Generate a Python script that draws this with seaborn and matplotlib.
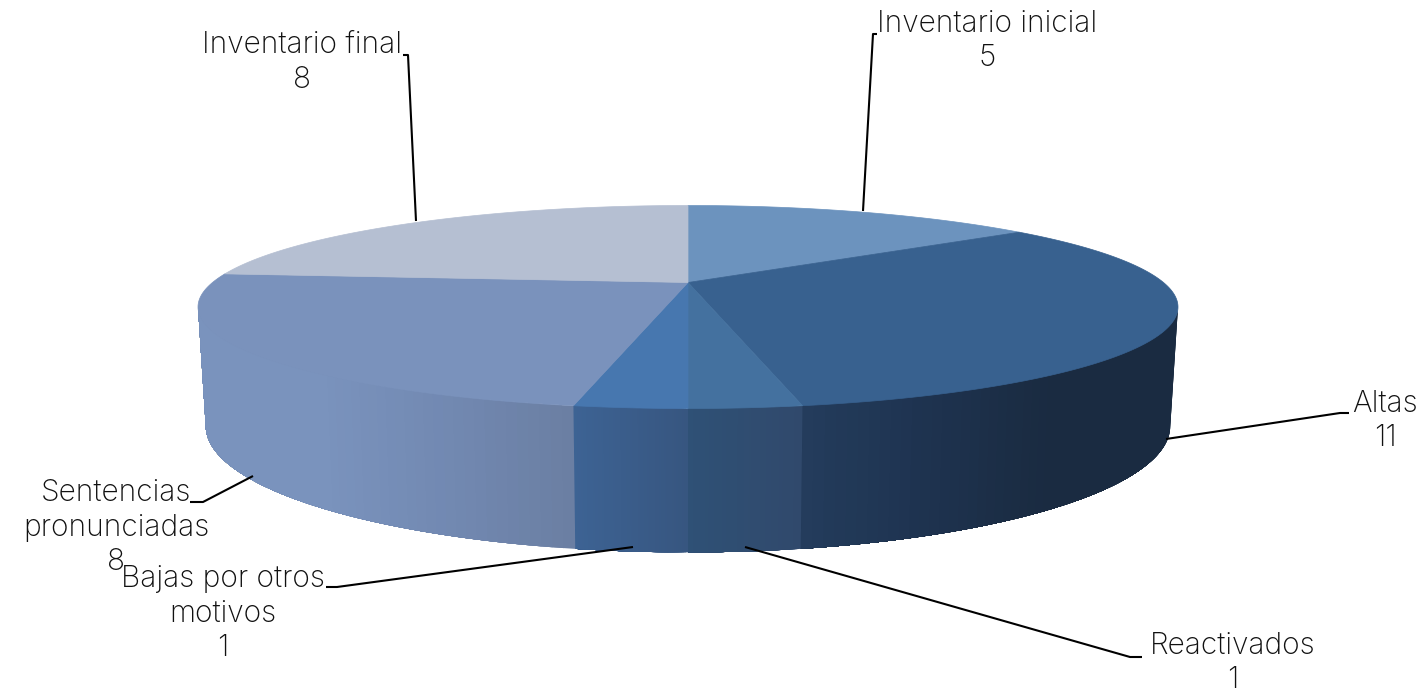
"""
Perspective 3D pie of the case inventory, drawn on a pixel sized axes.
"""

import numpy as np
import matplotlib.pyplot as plt
import seaborn as sns

# chart data
categories = ["Inventario inicial", "Altas", "Reactivados",
              "Bajas por otros\nmotivos", "Sentencias\npronunciadas", "Inventario final"]
values = [5, 11, 1, 1, 8, 8]

# colours per slice, rim colours read left to right on screen
top_colors = ["#6C93BE", "#38618F", "#44719F", "#4777AF", "#7A92BC", "#B5BFD2"]
side_colors = [
    ["#6C93BE", "#6C93BE"],
    ["#243D5D", "#1E3350", "#1A2B41", "#1A2B41"],
    ["#2F5176", "#30496C"],
    ["#3D6394", "#375680"],
    ["#7A93BD", "#7A93BD", "#7289B2", "#6B7FA3"],
    ["#B5BFD2", "#B5BFD2"],
]

# label placement in pixels: centre x, first line y
label_pos = [(987, 24), (1385, 404), (1233, 646), (223, 579), (116, 493), (302, 45)]
# leader lines in pixels
leaders = [
    [(863, 211), (873, 34), (877, 34)],
    [(1166, 439), (1340, 413), (1349, 413)],
    [(745, 547), (1130, 657), (1142, 657)],
    [(633, 547), (337, 587), (326, 587)],
    [(253, 476), (203, 502), (190, 502)],
    [(416, 221), (408, 55), (403, 55)],
]

# perspective model of the disc
TILT = 0.2414
TOP = dict(cy=282.5, a=475.5, b=95.6)
BOTTOM = dict(cy=395.5, a=468.0, b=119.0)
# the rim shows between these two angles (where the disc outline turns)
RIM_START = np.degrees(np.arccos(-TILT))
RIM_END = 360 - RIM_START
LINE_HEIGHT = 34.5


def project(theta_deg, disc):
    """Map clockwise-from-top angles on the disc to pixel coordinates"""
    theta = np.radians(theta_deg)
    u, v = np.sin(theta), np.cos(theta)
    w = 1 + TILT * v
    return 688 + disc["a"] * u / w, disc["cy"] - disc["b"] * v / w


def draw_side(ax, start, end, colors):
    """Draw the visible rim of one slice as overlapping strips coloured by position"""
    lo, hi = max(start, RIM_START), min(end, RIM_END)
    if hi <= lo:
        return
    cmap = sns.blend_palette(colors, as_cmap=True)
    edges = np.linspace(lo, hi, 61)
    x_left = project(hi, TOP)[0]
    x_right = project(lo, TOP)[0]
    # each strip runs to the end of the slice and the next one paints over it,
    # so no seam shows between neighbours
    for i in range(60):
        arc = np.linspace(edges[i], hi, 60 - i + 2)
        xt, yt = project(arc, TOP)
        xb, yb = project(arc[::-1], BOTTOM)
        frac = (project(edges[i], TOP)[0] - x_left) / (x_right - x_left)
        ax.fill(np.r_[xt, xb], np.r_[yt, yb], color=cmap(frac), lw=0, zorder=3)


def main():
    sns.set_theme(style="white")
    plt.rcParams["font.family"] = ["Inter", "Lato", "DejaVu Sans"]

    fig, ax = plt.subplots(figsize=(14.22, 6.92), dpi=100)
    ax.set_position([0, 0, 1, 1])
    ax.set_xlim(0, 1422)
    ax.set_ylim(692, 0)
    ax.axis("off")

    angles = np.r_[0, np.cumsum(values)] / sum(values) * 360

    for i in range(len(values)):
        draw_side(ax, angles[i], angles[i + 1], side_colors[i])

    for i in range(len(values)):
        arc = np.linspace(angles[i], angles[i + 1], 200)
        x, y = project(arc, TOP)
        ax.fill(np.r_[688, x], np.r_[TOP["cy"], y], color=top_colors[i], lw=0.5, zorder=4)

    for pts in leaders:
        xs, ys = zip(*pts)
        ax.plot(xs, ys, color="black", lw=1.5, zorder=5, solid_capstyle="butt")

    for name, val, (cx, cy) in zip(categories, values, label_pos):
        lines = name.split("\n") + [str(val)]
        for j, line in enumerate(lines):
            ax.text(cx, cy + j * LINE_HEIGHT, line, ha="center", va="center",
                    fontsize=21.5, fontweight="light", color="#111111", zorder=6)

    fig.savefig("out.png", dpi=100)


if __name__ == "__main__":
    main()
